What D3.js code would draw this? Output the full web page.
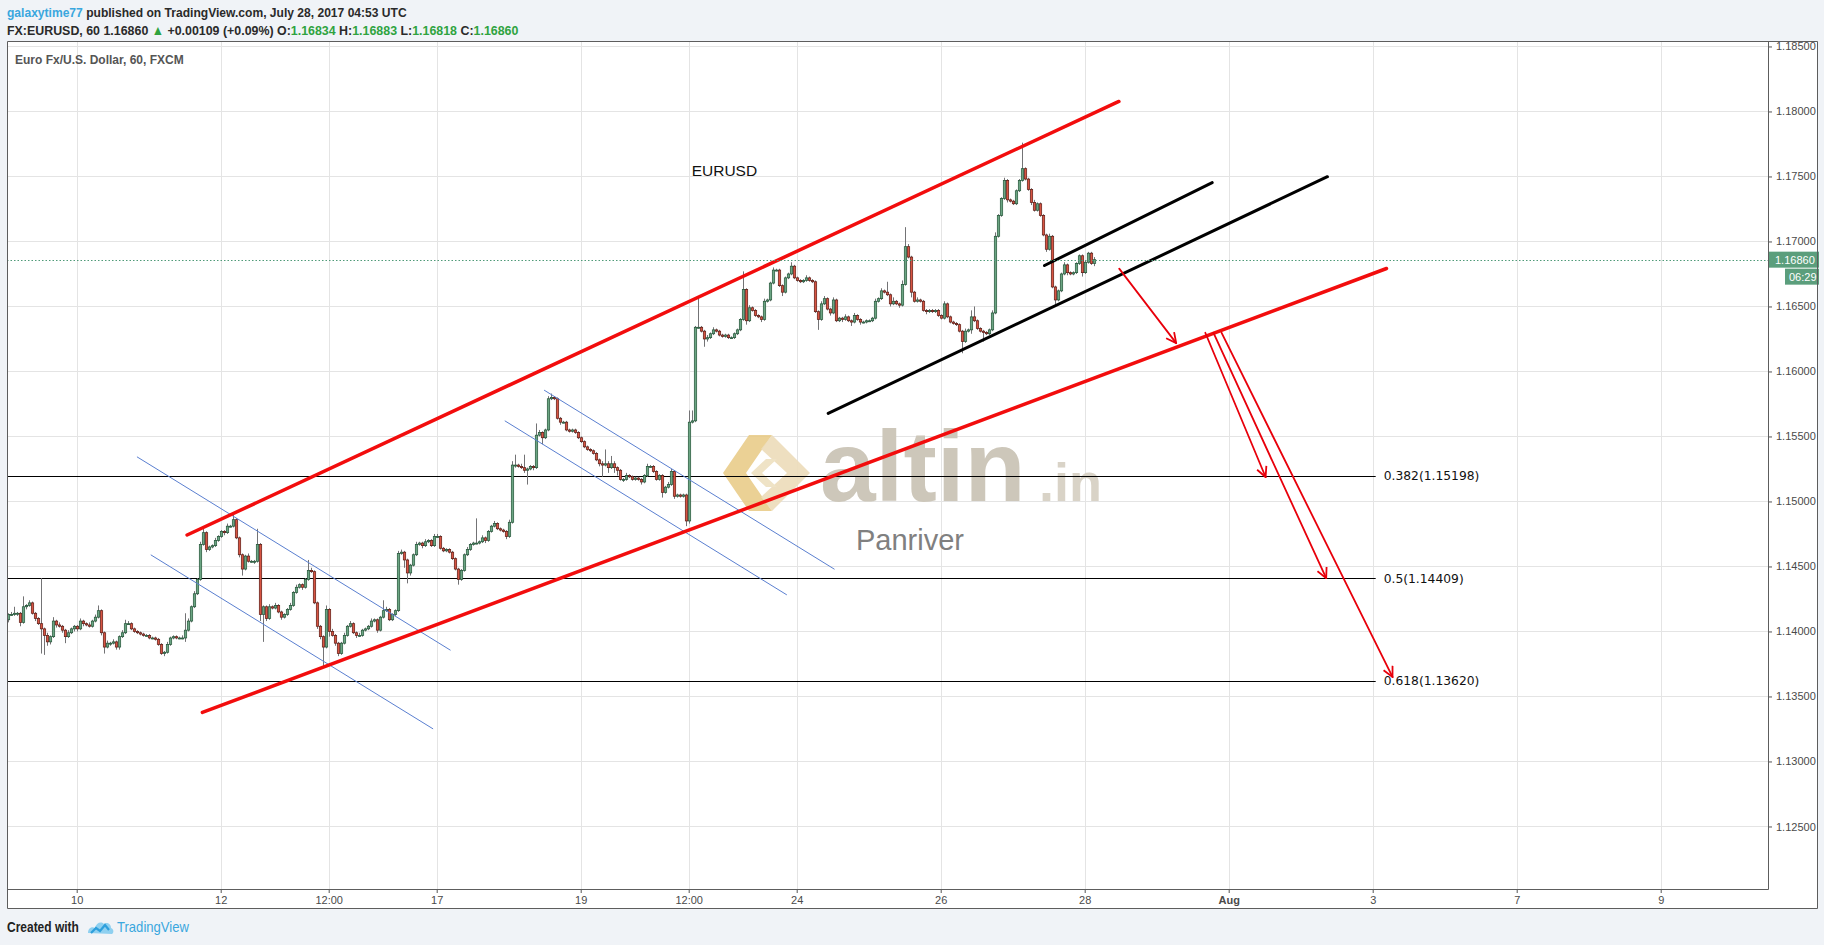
<!DOCTYPE html>
<html><head><meta charset="utf-8">
<script src="https://cdn.jsdelivr.net/npm/d3@7"></script>
<style>
html,body{margin:0;padding:0;background:#f0f3f7;}
svg{display:block;}
</style></head><body>
<svg id="c" width="1824" height="945"></svg>
<script>
// ---------- DATA ----------
// time axis: hours since Jul 10 00:00 (trading hours only)
const timeTicks = [0,48,84,120,168,204,240,288,336,384,432,480,528];
const timeLabels = ["10","12","12:00","17","19","12:00","24","26","28","Aug","3","7","9"];
const priceTicks = [1.125,1.130,1.135,1.140,1.145,1.150,1.155,1.160,1.165,1.170,1.175,1.180,1.185];
const firstHour = -23;
const firstOpen = 1.1409;
// hourly closes EURUSD, 60
const closes = [
1.1413,1.1413,1.1414,1.1414,1.1407,1.1419,1.1420,1.1422,1.1414,1.1410,1.1406,1.1402,1.1397,1.1392,1.1396,1.1408,1.1405,1.1404,1.1401,1.1396,1.1399,1.1402,1.1404,
1.1402,1.1408,1.1406,1.1405,1.1404,1.1408,1.1411,1.1416,1.1399,1.1388,1.1391,1.1391,1.1392,1.1388,1.1396,1.1399,1.1406,1.1406,1.1402,1.1400,1.1399,1.1398,1.1397,1.1397,
1.1395,1.1395,1.1394,1.1390,1.1383,1.1384,1.1390,1.1395,1.1396,1.1395,1.1395,1.1395,1.1401,1.1408,1.1419,1.1429,1.1440,1.1467,1.1476,1.1463,1.1465,1.1466,1.1470,1.1473,
1.1477,1.1476,1.1481,1.1481,1.1486,1.1472,1.1459,1.1448,1.1458,1.1454,1.1454,1.1454,1.1467,1.1413,1.1419,1.1410,1.1419,1.1418,1.1420,1.1415,1.1411,1.1413,1.1417,1.1420,
1.1430,1.1434,1.1436,1.1434,1.1440,1.1447,1.1446,1.1422,1.1404,1.1396,1.1388,1.1417,1.1400,1.1397,1.1391,1.1383,1.1391,1.1397,1.1404,1.1406,1.1399,1.1397,1.1397,1.1401,
1.1402,1.1404,1.1408,1.1409,1.1401,1.1411,1.1416,1.1417,1.1409,1.1413,1.1416,1.1460,1.1461,1.1455,1.1445,1.1451,1.1459,1.1467,1.1468,1.1466,1.1469,1.1470,1.1466,1.1473,
1.1473,1.1464,1.1462,1.1463,1.1461,1.1456,1.1448,1.1440,1.1447,1.1459,1.1463,1.1467,1.1468,1.1468,1.1469,1.1472,1.1470,1.1477,1.1481,1.1483,1.1479,1.1478,1.1477,1.1473,
1.1484,1.1528,1.1528,1.1527,1.1526,1.1524,1.1525,1.1527,1.1526,1.1551,1.1553,1.1549,1.1555,1.1579,1.1580,1.1579,1.1564,1.1561,1.1561,1.1555,1.1554,1.1555,1.1553,1.1549,
1.1546,1.1542,1.1540,1.1539,1.1537,1.1532,1.1529,1.1528,1.1529,1.1526,1.1529,1.1526,1.1524,1.1517,1.1517,1.1520,1.1519,1.1517,1.1518,1.1517,1.1515,1.1520,1.1527,1.1527,
1.1523,1.1517,1.1520,1.1507,1.1511,1.1513,1.1523,1.1504,1.1505,1.1504,1.1505,1.1485,1.1561,1.1562,1.1634,1.1634,1.1631,1.1625,1.1626,1.1629,1.1632,1.1631,1.1628,1.1627,
1.1628,1.1626,1.1626,1.1629,1.1632,1.1640,1.1663,1.1639,1.1649,1.1647,1.1643,1.1642,1.1640,1.1654,1.1655,1.1668,1.1678,1.1678,1.1666,1.1661,1.1672,1.1675,1.1681,1.1672,
1.1670,1.1669,1.1670,1.1672,1.1670,1.1669,1.1646,1.1640,1.1652,1.1656,1.1648,1.1645,1.1655,1.1639,1.1641,1.1640,1.1642,1.1639,1.1638,1.1643,1.1640,1.1638,1.1638,1.1639,
1.1639,1.1641,1.1654,1.1656,1.1662,1.1661,1.1659,1.1652,1.1654,1.1652,1.1651,1.1667,1.1696,1.1688,1.1661,1.1654,1.1655,1.1654,1.1647,1.1646,1.1647,1.1646,1.1647,1.1643,
1.1641,1.1652,1.1642,1.1638,1.1637,1.1636,1.1631,1.1623,1.1631,1.1632,1.1642,1.1639,1.1633,1.1631,1.1630,1.1629,1.1632,1.1645,1.1704,1.1720,1.1733,1.1747,1.1732,1.1731,
1.1729,1.1739,1.1747,1.1756,1.1748,1.1740,1.1730,1.1724,1.1729,1.1720,1.1705,1.1694,1.1704,1.1665,1.1655,1.1662,1.1675,1.1682,1.1676,1.1675,1.1676,1.1683,1.1689,1.1676,1.1684,1.1691,1.1683,1.1686
];
// upper / lower wick length beyond body, in pips
const upWick = [
1,2,5,1,1,8,1,2,1,1,1,35,1,2,1,3,1,2,1,1,2,1,1,
1,2,1,1,2,1,2,4,1,1,2,1,2,1,1,2,3,2,1,1,1,1,1,1,
1,1,1,1,1,1,2,1,1,1,1,2,13,2,1,2,1,2,3,1,1,1,2,1,
1,1,2,1,4,1,1,1,1,2,1,1,12,1,1,1,2,1,2,1,1,1,1,2,
1,2,1,1,1,8,2,1,1,1,1,3,1,2,1,1,1,2,1,2,1,1,2,1,
1,1,2,1,1,1,8,2,1,1,1,2,2,1,1,1,1,2,1,1,2,1,1,2,
2,1,1,1,1,1,1,1,1,1,2,1,1,19,1,2,1,1,1,2,1,1,1,1,
2,3,8,1,2,10,1,1,1,9,2,1,1,2,3,1,1,1,1,1,1,1,1,1,
1,1,1,1,1,1,1,2,11,2,6,2,1,1,1,2,1,1,1,1,1,1,2,1,
1,1,1,1,1,2,2,1,1,1,1,1,9,8,1,24,1,1,2,1,2,1,1,1,
1,1,1,1,1,1,14,1,2,1,1,1,1,2,1,1,2,1,1,1,1,1,3,1,
1,1,1,2,1,1,1,1,2,2,1,1,2,1,1,1,2,1,1,2,1,1,1,1,
1,1,2,1,2,1,8,1,3,1,1,3,15,2,1,1,2,1,1,1,1,1,1,1,
1,2,1,1,1,1,1,1,2,1,5,8,1,1,1,1,1,2,3,1,1,2,1,1,
1,1,1,20,1,1,1,2,1,1,1,1,2,1,1,1,1,2,1,1,1,1,1,1,1,1,1,2
];
const downWick = [
2,1,1,2,3,1,2,1,1,2,1,19,15,3,2,1,2,1,2,5,1,1,2,
2,1,2,1,1,1,1,1,2,5,1,2,1,2,2,1,1,1,1,1,1,1,1,1,
1,1,1,1,1,2,1,1,1,1,1,1,3,1,1,1,1,1,1,2,1,1,1,1,
1,2,1,1,1,1,2,5,1,1,1,2,1,5,21,2,1,1,1,1,2,1,1,1,
1,1,1,2,1,1,1,1,2,2,15,1,4,1,2,2,1,1,1,1,1,2,1,1,
1,1,1,1,2,1,1,1,1,1,1,1,1,6,8,2,1,1,1,2,1,1,1,1,
1,1,1,1,1,1,1,4,1,1,1,1,1,1,1,1,2,1,1,1,1,1,1,2,
1,1,2,1,1,2,11,1,2,1,1,5,1,1,1,1,1,2,1,1,1,1,1,1,
1,1,1,1,1,1,2,9,1,4,1,4,4,1,2,1,1,1,1,1,2,1,1,1,
1,1,1,4,1,1,1,2,1,1,1,4,2,1,1,1,1,6,2,1,1,1,1,1,
1,1,1,1,1,1,1,3,1,1,1,1,2,1,1,1,1,1,1,3,1,1,1,1,
1,1,1,1,1,1,1,8,1,1,1,2,1,1,1,2,1,1,3,1,1,2,1,1,
1,1,1,1,1,1,1,2,1,1,2,1,1,1,4,1,1,1,1,2,1,1,1,1,
1,1,1,1,1,1,1,9,1,1,3,1,1,1,7,1,1,1,1,1,1,1,2,1,
1,1,1,1,1,1,2,1,1,1,1,2,1,1,4,1,1,1,2,1,1,1,1,3,1,1,1,2
];
const lastPrice = 1.16860;
const countdown = "06:29";
// Fibonacci levels
const fibRatios = ["0.382","0.5","0.618"];
const fibPrices = [1.15198,1.14409,1.13620];
const fibEndHour = 433;
// drawings: [hour1, price1, hour2, price2]
const redChannel = [[36.8,1.14742,347.4,1.18077],[41.9,1.13377,436.6,1.16792]];
const blackTrend = [[250.5,1.15677,416.9,1.17498],[322.6,1.16815,378.5,1.17453]];
const blueChannels = [[20.2,1.15342,124.5,1.13857],[24.8,1.14588,118.7,1.13252],[155.9,1.15855,252.5,1.14480],[142.8,1.15619,236.6,1.14283]];
const redArrows = [[347.5,1.16791,366.5,1.16218],[376.2,1.16298,396.3,1.15188],[378.9,1.16298,416.5,1.14410],[381.6,1.16298,438.6,1.13650]];
const noteText = "EURUSD", notePos = [205, 1.1750];

// ---------- LAYOUT ----------
const L = 7, R = 1768, T = 41, B = 889, AX = 1817, AB = 908;
const svg = d3.select("#c");
const pip = 0.0001;

const x = d3.scaleLinear().domain([(L-76.7)/3, (R-76.7)/3]).range([L, R]);
const y = d3.scaleLinear().domain([1.12019, 1.18542]).range([B, T]);

// chart background
svg.append("rect").attr("x",L).attr("y",T).attr("width",AX-L).attr("height",AB-T).attr("fill","#fff");

svg.append("defs").append("clipPath").attr("id","plot")
  .append("rect").attr("x",L).attr("y",T).attr("width",R-L).attr("height",B-T);
svg.select("defs").append("marker").attr("id","ah").attr("viewBox","0 0 12 12")
  .attr("refX",11).attr("refY",6).attr("markerWidth",12).attr("markerHeight",12)
  .attr("markerUnits","userSpaceOnUse").attr("orient","auto")
  .append("path").attr("d","M1,1 L11,6 L1,11").attr("fill","none").attr("stroke","#e8000b").attr("stroke-width",1.8);

const plot = svg.append("g").attr("clip-path","url(#plot)");

// grid
plot.selectAll(".vg").data(timeTicks).join("line")
  .attr("x1",d=>Math.round(x(d))+0.5).attr("x2",d=>Math.round(x(d))+0.5)
  .attr("y1",T).attr("y2",B).attr("stroke","#e4e4e4").attr("stroke-width",1);
plot.selectAll(".hg").data(priceTicks).join("line")
  .attr("x1",L).attr("x2",R)
  .attr("y1",d=>Math.round(y(d))+0.5).attr("y2",d=>Math.round(y(d))+0.5)
  .attr("stroke","#e4e4e4").attr("stroke-width",1);

// watermark
const wm = plot.append("g").attr("transform","translate(721,435)");
wm.append("polygon").attr("points","28,0 51,0 25,38 51,76 28,76 2,38").attr("fill","#e8c983").attr("opacity",0.85);
wm.append("polygon").attr("points","51,0 89,38 51,76 40,62 66,38 40,14").attr("fill","#ecdcb9").attr("opacity",0.9);
wm.append("polygon").attr("points","30,38 45,24 56,24 41,38 56,52 45,52").attr("fill","#efe3c6");
wm.append("text").attr("x",99).attr("y",66).attr("font-family","Liberation Sans, Arial, sans-serif")
  .attr("font-weight","bold").attr("font-size",100).attr("fill","#cdc7ba").text("altin");
wm.append("text").attr("x",318).attr("y",66).attr("font-family","Liberation Sans, Arial, sans-serif")
  .attr("font-weight","bold").attr("font-size",54).attr("fill","#d9d3c7").text(".in");
wm.append("text").attr("x",135).attr("y",115).attr("font-family","Liberation Sans, Arial, sans-serif")
  .attr("font-size",29).attr("fill","#808080").text("Panriver");

// fib lines
plot.selectAll(".fib").data(fibPrices).join("line")
  .attr("x1",L).attr("x2",x(fibEndHour))
  .attr("y1",d=>Math.round(y(d))+0.5).attr("y2",d=>Math.round(y(d))+0.5)
  .attr("stroke","#000").attr("stroke-width",1);
plot.selectAll(".fibt").data(fibPrices).join("text")
  .attr("x",x(fibEndHour)+8).attr("y",d=>y(d)+4.5)
  .attr("font-family","DejaVu Sans, Verdana, sans-serif").attr("font-size",12.3).attr("fill","#111")
  .text((d,i)=>fibRatios[i]+"("+d.toFixed(5)+")");

// candles
const bars = closes.map((c,i)=>{
  const o = i===0 ? firstOpen : closes[i-1];
  return {t:firstHour+i, o, c, h:Math.max(o,c)+upWick[i]*pip, l:Math.min(o,c)-downWick[i]*pip};
});
const cg = plot.append("g");
cg.selectAll(".wk").data(bars).join("line")
  .attr("x1",d=>Math.round(x(d.t))+0.5).attr("x2",d=>Math.round(x(d.t))+0.5)
  .attr("y1",d=>y(d.h)).attr("y2",d=>y(d.l)).attr("stroke","#737375").attr("stroke-width",1);
cg.selectAll(".bd").data(bars).join("rect")
  .attr("x",d=>Math.round(x(d.t))-0.7).attr("width",2.4)
  .attr("y",d=>y(Math.max(d.o,d.c))).attr("height",d=>Math.max(1,Math.abs(y(d.o)-y(d.c))))
  .attr("fill",d=>d.c>=d.o?"#6ba583":"#d75442")
  .attr("stroke",d=>d.c>=d.o?"#225437":"#5b1a13").attr("stroke-width",0.7);

// drawings
const seg = (g,data,col,w,marker)=>g.selectAll(null).data(data).join("line")
  .attr("x1",d=>x(d[0])).attr("y1",d=>y(d[1])).attr("x2",d=>x(d[2])).attr("y2",d=>y(d[3]))
  .attr("stroke",col).attr("stroke-width",w).attr("stroke-linecap","round")
  .attr("marker-end",marker?"url(#ah)":null);
seg(plot,blueChannels,"#5a7fd0",1,false);
seg(plot,redChannel,"#f20d0d",3.5,false);
seg(plot,blackTrend,"#000",3,false);
seg(plot,redArrows,"#e8000b",1.8,true);

plot.append("text").attr("x",x(notePos[0])).attr("y",y(notePos[1]))
  .attr("font-family","Liberation Sans, Arial, sans-serif").attr("font-size",15.5).attr("fill","#111").text(noteText);

// last price line
plot.append("line").attr("x1",L).attr("x2",R)
  .attr("y1",Math.round(y(lastPrice))+0.5).attr("y2",Math.round(y(lastPrice))+0.5)
  .attr("stroke","#4f9a78").attr("stroke-width",1).attr("stroke-dasharray","1.5,2");

// axes
const ya = svg.append("g").attr("transform",`translate(${R},0)`)
  .call(d3.axisRight(y).tickValues(priceTicks).tickFormat(d3.format(".5f")).tickSize(4).tickPadding(4));
ya.select(".domain").remove();
ya.selectAll("line").attr("stroke","#555");
ya.selectAll("text").attr("font-family","Liberation Sans, Arial, sans-serif").attr("font-size",11).attr("fill","#4a4a4a");

const xa = svg.append("g").attr("transform",`translate(0,${B})`)
  .call(d3.axisBottom(x).tickValues(timeTicks).tickFormat((d,i)=>timeLabels[i]).tickSize(4).tickPadding(3));
xa.select(".domain").remove();
xa.selectAll("line").attr("stroke","#555");
xa.selectAll("text").attr("font-family","Liberation Sans Narrow, Liberation Sans, Arial, sans-serif").attr("font-size",11).attr("fill","#4a4a4a")
  .attr("font-weight",(d,i)=>timeLabels[i]==="Aug"?"bold":"normal");

// last price label
const ly = y(lastPrice);
svg.append("rect").attr("x",R).attr("y",ly-8).attr("width",AX-R+2).attr("height",16).attr("fill","#5b9e7c");
svg.append("text").attr("x",R+7).attr("y",ly+4).attr("font-family","Liberation Sans, Arial, sans-serif")
  .attr("font-size",11).attr("fill","#fff").text(lastPrice.toFixed(5));
svg.append("rect").attr("x",R+17).attr("y",ly+9).attr("width",AX-R-15).attr("height",16).attr("fill","#5b9e7c");
svg.append("text").attr("x",R+21).attr("y",ly+21).attr("font-family","Liberation Sans, Arial, sans-serif")
  .attr("font-size",11).attr("fill","#fff").text(countdown);

// borders
const bc = "#5d5d5d";
svg.append("path").attr("d",`M${L+0.5},${T+0.5}H${AX+0.5}V${AB+0.5}H${L+0.5}Z`).attr("fill","none").attr("stroke",bc);
svg.append("path").attr("d",`M${R+0.5},${T}V${B+0.5}H${L}`).attr("fill","none").attr("stroke",bc);

// legend inside
svg.append("text").attr("x",15).attr("y",64).attr("font-family","Liberation Sans, Arial, sans-serif")
  .attr("font-size",12).attr("font-weight","bold").attr("fill","#555").text("Euro Fx/U.S. Dollar, 60, FXCM");

// condensed text helper: draws text at (x0, yb), horizontally condensed to a target width
const hf = "Liberation Sans, Arial, sans-serif";
function condensed(x0, yb, width, size, parts, weight){
  const gg = svg.append("g");
  const t = gg.append("text").attr("x",0).attr("y",yb).attr("font-family",hf).attr("font-size",size)
    .attr("font-weight",weight).attr("fill","#2a2a2a");
  parts.forEach(p=>t.append("tspan").attr("fill",p[1]).text(p[0]));
  const w = t.node().getComputedTextLength();
  gg.attr("transform",`translate(${x0},0) scale(${width/w},1)`);
}
const grn = "#2fa33f", dk = "#2a2a2a", blue = "#3aa7de";
condensed(7, 17, 400, 13.5, [["galaxytime77",blue],[" published on TradingView.com, July 28, 2017 04:53 UTC",dk]], "bold");
condensed(7, 35, 512, 13.5, [["FX:EURUSD, 60  1.16860 ",dk],["▲",grn],[" +0.00109 (+0.09%) ",dk],["O:",dk],["1.16834",grn],
 [" H:",dk],["1.16883",grn],[" L:",dk],["1.16818",grn],[" C:",dk],["1.16860",grn]], "bold");

// footer
condensed(7, 932, 72, 14, [["Created with","#222"]], "bold");
const lg = svg.append("g").attr("transform","translate(88,921)");
lg.append("path").attr("d","M0,12 C0,7 4,5 7,7 C8,2 13,0 16,3 C18,1 23,2 23,7 C26,8 26,12 24,13 Z").attr("fill","#8fd0f0");
lg.append("path").attr("d","M3,12 L8,7 L12,10 L17,4 L21,9").attr("fill","none").attr("stroke","#2d9fdc").attr("stroke-width",2.2);
condensed(117, 932, 72, 14, [["TradingView",blue]], "normal");
</script>
</body></html>
